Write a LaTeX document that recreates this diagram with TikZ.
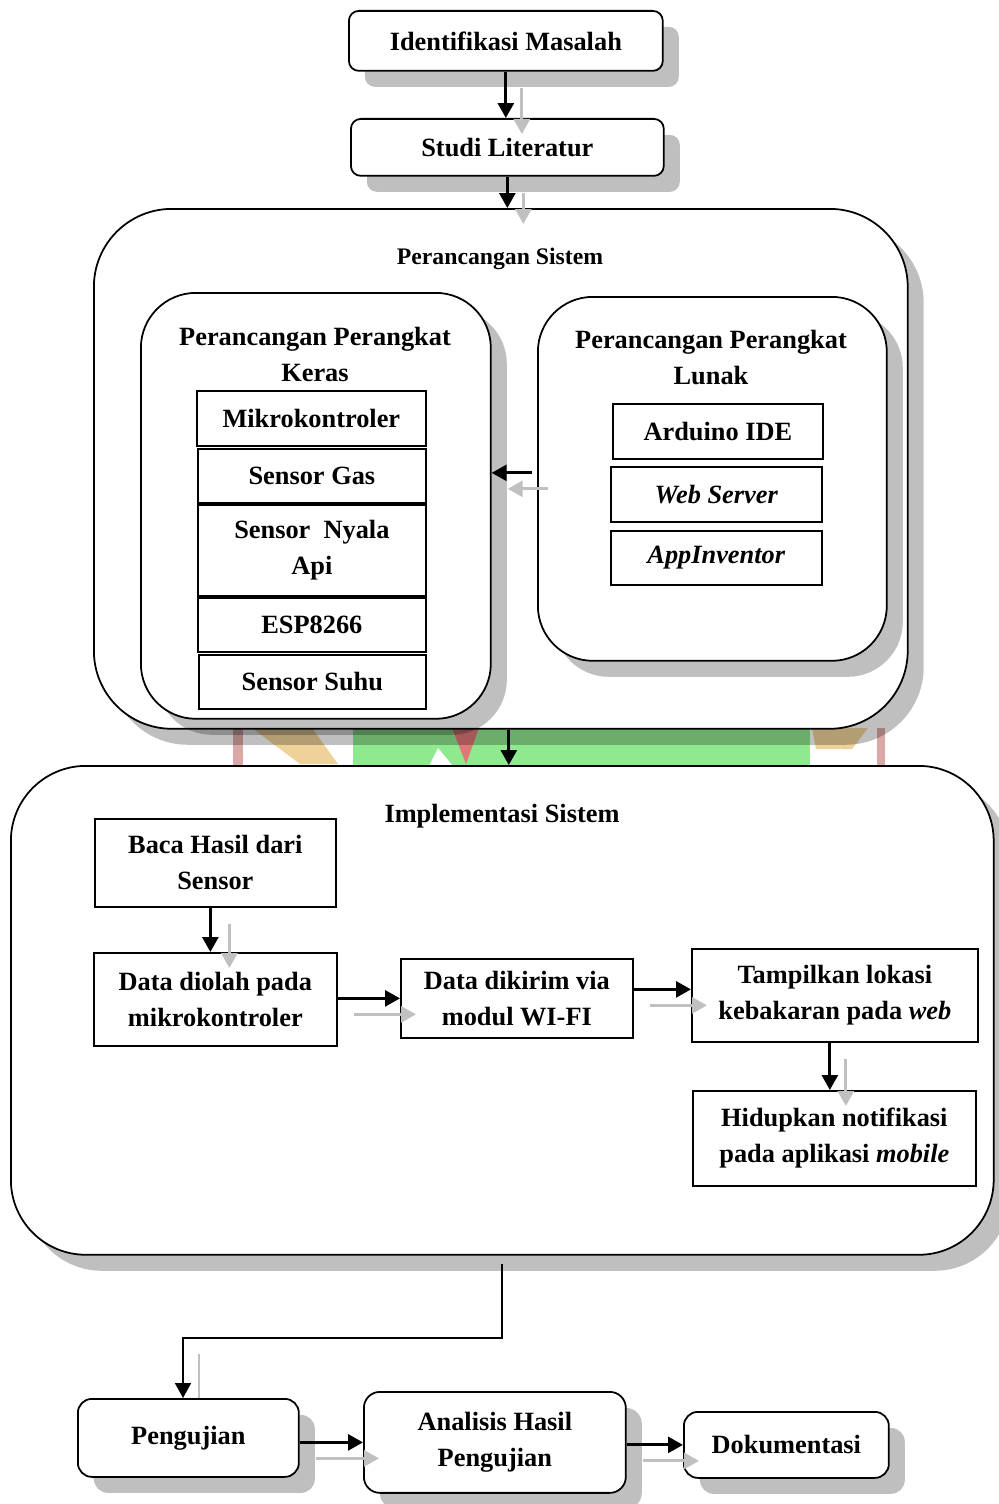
\documentclass[tikz,border=0pt]{standalone}
\usepackage{fontspec}
\setmainfont{Liberation Serif}
\usetikzlibrary{arrows.meta,shadows}
\pgfdeclarelayer{background}
\pgfsetlayers{background,main}

\definecolor{wmgreen}{HTML}{8FE98F}
\definecolor{wmred}{HTML}{E07878}
\definecolor{wmtan}{HTML}{EFD29A}
\definecolor{wmpink}{HTML}{DBA8A8}
\definecolor{shgray}{HTML}{C0C0C0}

\tikzset{
  every node/.style={font=\fontsize{15}{20.5}\selectfont\bfseries},
  rbox/.style={draw, line width=1pt, fill=white, rounded corners=#1, anchor=north west,
    inner sep=0pt, align=center,
    drop shadow={shadow xshift=0.32cm, shadow yshift=-0.32cm, fill=black, opacity=.25}},
  rbox/.default=0.2cm,
  sbox/.style={draw, line width=1pt, fill=white, anchor=north west, inner sep=0pt, align=center},
  arr/.style={line width=1.6pt, -{Triangle[length=0.3cm,width=0.32cm]}},
  arrsh/.style={arr, draw=shgray},
}

\begin{document}
\begin{tikzpicture}[x=0.02cm,y=-0.02cm]
\useasboundingbox (0,0) rectangle (998,1504);

%watermark (only seen between the two big boxes)
\begin{pgfonlayer}{background}
\fill[wmgreen] (353,720) rectangle (810,766);
\fill[white] (429,766) -- (438,748) -- (453,766) -- cycle;
\fill[wmred] (452,728) -- (479,728) -- (466,764) -- cycle;
\fill[wmtan] (252,728) -- (312,728) -- (338,764) -- (300,764) -- cycle;
\fill[wmtan] (812,728) -- (868,728) -- (852,749) -- (816,749) -- cycle;
\fill[wmpink] (233,728) rectangle (243,766);
\fill[wmpink] (877,728) rectangle (885,770);
\end{pgfonlayer}

%top
\node[rbox, minimum width=6.28cm, minimum height=1.2cm] (iden) at (348,10) {Identifikasi Masalah};
\node[rbox, minimum width=6.26cm, minimum height=1.14cm] (studi) at (350,118) {Studi Literatur};

%perancangan
\node[rbox=1.56cm, minimum width=16.28cm, minimum height=10.4cm] (sistem) at (93,208) {};
\node[font=\fontsize{13.5}{16}\selectfont\bfseries] (sistemlbl) at (500,259) {Perancangan Sistem};

\node[rbox=1.1cm, minimum width=7cm, minimum height=8.52cm] (keras) at (140,292) {};
\node[align=center] (keraslbl) at (315,354) {Perancangan Perangkat\\Keras};
\node[sbox, minimum width=4.58cm, minimum height=1.1cm] (mikro) at (196,390) {Mikrokontroler};
\node[sbox, minimum width=4.56cm, minimum height=1.08cm] (gas) at (197,448) {Sensor Gas};
\node[sbox, minimum width=4.56cm, minimum height=1.82cm] (api) at (197,504) {Sensor\ \ Nyala\\Api};
\node[sbox, minimum width=4.56cm, minimum height=1.08cm] (esp) at (197,597) {ESP8266};
\node[sbox, minimum width=4.54cm, minimum height=1.08cm] (suhu) at (198,654) {Sensor Suhu};

\node[rbox=1.1cm, minimum width=6.98cm, minimum height=7.28cm] (lunak) at (537,296) {};
\node[align=center] (lunaklbl) at (711,358) {Perancangan Perangkat\\Lunak};
\node[sbox, minimum width=4.2cm, minimum height=1.1cm] (ide) at (612,403) {Arduino IDE};
\node[sbox, minimum width=4.22cm, minimum height=1.1cm] (web) at (610,466) {\textit{Web Server}};
\node[sbox, minimum width=4.22cm, minimum height=1.08cm] (app) at (610,530) {\textit{AppInventor}};

%implementasi
\node[rbox=1.5cm, minimum width=19.66cm, minimum height=9.78cm] (impl) at (10,765) {};
\node (impllbl) at (502,816) {Implementasi Sistem};
\node[sbox, minimum width=4.82cm, minimum height=1.76cm] (baca) at (94,818) {Baca Hasil dari\\Sensor};
\node[sbox, minimum width=4.86cm, minimum height=1.86cm] (olah) at (93,952) {Data diolah pada\\mikrokontroler};
\node[sbox, minimum width=4.64cm, minimum height=1.58cm] (kirim) at (400,958) {Data dikirim via\\modul WI-FI};
\node[sbox, minimum width=5.72cm, minimum height=1.86cm] (tampil) at (691,948) {Tampilkan lokasi\\kebakaran pada \textit{web}};
\node[sbox, minimum width=5.66cm, minimum height=1.9cm] (hidup) at (692,1090) {Hidupkan notifikasi\\pada aplikasi \textit{mobile}};

%bottom
\node[rbox=0.28cm, minimum width=4.42cm, minimum height=1.56cm] (peng) at (77,1398) {Pengujian};
\node[rbox=0.32cm, minimum width=5.24cm, minimum height=2.02cm] (analisis) at (363,1391) {Analisis Hasil\\Pengujian};
\node[rbox=0.28cm, minimum width=4.1cm, minimum height=1.32cm] (doku) at (683,1411) {Dokumentasi};

\coordinate (turn) at (183,1338);

%arrows
\draw[arr] (iden.south) -- (iden.south |- studi.north);
\draw[arrsh] ([shift={(0.32cm,-0.32cm)}]iden.south) -- ([shift={(0.32cm,-0.32cm)}]iden.south |- studi.north);
\draw[arr] (studi.south) -- (studi.south |- sistem.north);
\draw[arrsh] ([shift={(0.32cm,-0.32cm)}]studi.south) -- ([shift={(0.32cm,-0.32cm)}]studi.south |- sistem.north);

\draw[arr] ([shift={(-0.1cm,0.12cm)}]lunak.west) -- ([yshift=0.12cm]lunak.west -| keras.east);
\draw[arrsh] ([shift={(0.22cm,-0.2cm)}]lunak.west) -- ([shift={(0.32cm,-0.2cm)}]lunak.west -| keras.east);

\draw[arr] ([xshift=0.16cm]sistem.south) -- ([xshift=0.16cm]sistem.south |- impl.north);

\draw[arr] ([xshift=-0.1cm]baca.south) -- ([xshift=-0.1cm]baca.south |- olah.north);
\draw[arrsh] ([shift={(0.28cm,-0.32cm)}]baca.south) -- ([shift={(0.28cm,-0.32cm)}]baca.south |- olah.north);
\draw[arr] (olah.east |- kirim.west) -- (kirim.west);
\draw[arrsh] ([shift={(0.32cm,-0.32cm)}]olah.east |- kirim.west) -- ([shift={(0.32cm,-0.32cm)}]kirim.west);
\draw[arr] ([yshift=0.18cm]kirim.east) -- ([yshift=0.18cm]kirim.east -| tampil.west);
\draw[arrsh] ([shift={(0.32cm,-0.14cm)}]kirim.east) -- ([shift={(0.32cm,-0.14cm)}]kirim.east -| tampil.west);
\draw[arr] ([xshift=-0.1cm]tampil.south) -- ([xshift=-0.1cm]tampil.south |- hidup.north);
\draw[arrsh] ([shift={(0.22cm,-0.32cm)}]tampil.south) -- ([shift={(0.22cm,-0.32cm)}]tampil.south |- hidup.north);

\draw[arr, line width=1pt] ([yshift=-0.16cm]impl.south) |- (turn) -- (turn |- peng.north);

\draw[arr] (peng.east |- analisis.west) -- (analisis.west);
\draw[arrsh] ([shift={(0.32cm,-0.32cm)}]peng.east |- analisis.west) -- ([shift={(0.32cm,-0.32cm)}]analisis.west);
\draw[arr] (analisis.east |- doku.west) -- (doku.west);
\draw[arrsh] ([shift={(0.32cm,-0.32cm)}]analisis.east |- doku.west) -- ([shift={(0.32cm,-0.32cm)}]doku.west);

%shadows that go under the boxes
\begin{pgfonlayer}{background}
\draw[arrsh, line width=1pt] ([shift={(0.18cm,-0.32cm)}]sistem.south) -- ++(0,34);
\draw[arrsh, line width=1pt] ([shift={(0.32cm,-0.32cm)}]turn) -- ++(0,60);
\end{pgfonlayer}
\end{tikzpicture}
\end{document}
